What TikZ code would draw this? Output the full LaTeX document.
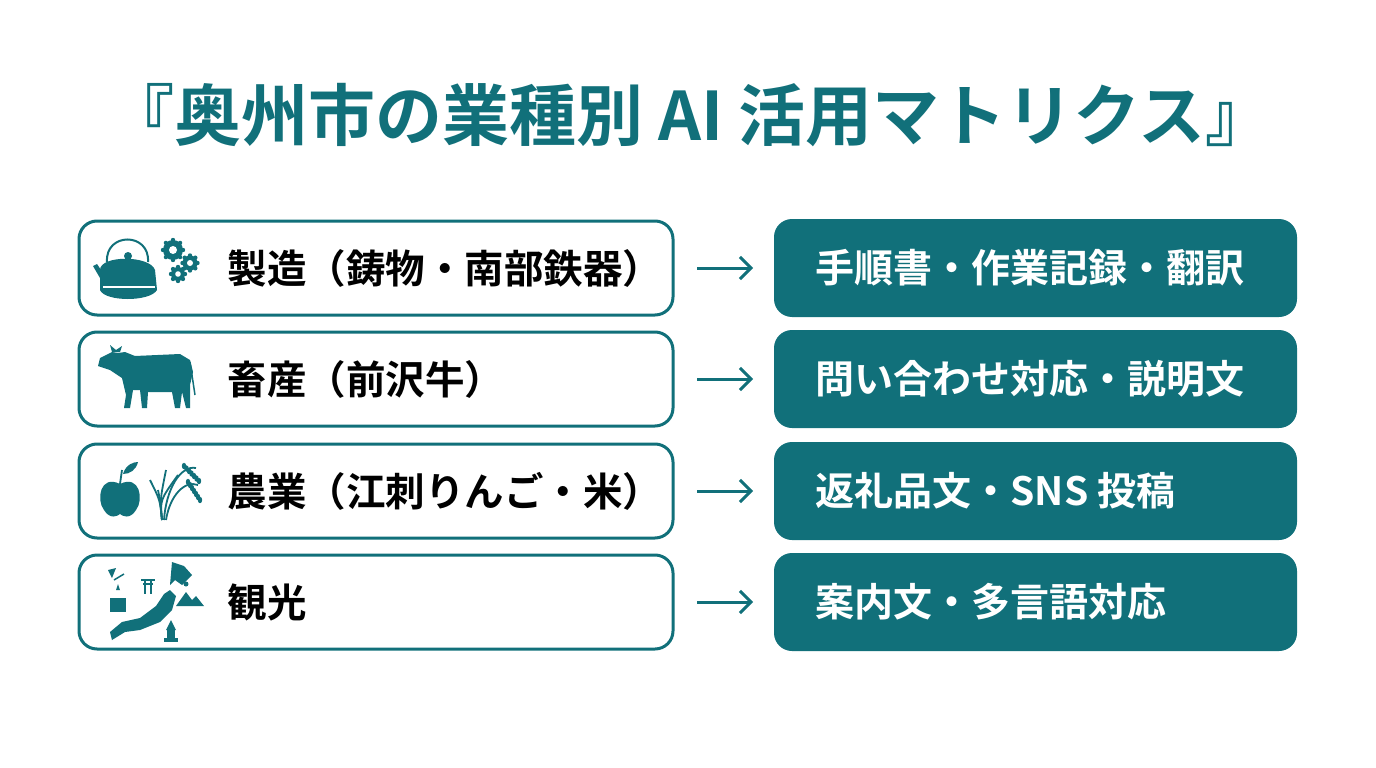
\documentclass[tikz,border=0pt]{standalone}
\usetikzlibrary{arrows.meta}
\usepackage{fontspec}
\newfontfamily\cjk{Noto Sans CJK JP}[BoldFont=* Bold]
\definecolor{teal1}{HTML}{11707A}
\begin{document}
\begin{tikzpicture}[x=1pt,y=-1pt,
  lbox/.style={draw=teal1,line width=3pt,rounded corners=18pt,fill=white},
  rbox/.style={fill=teal1,rounded corners=18pt},
  ltxt/.style={anchor=west,font=\cjk\bfseries\fontsize{39.5}{44}\selectfont,text=black},
  rtxt/.style={anchor=west,font=\cjk\bfseries\fontsize{39}{44}\selectfont,text=white},
  arr/.style={draw=teal1,line width=3pt,-{Straight Barb[length=11pt,width=22pt]}},
  ic/.style={fill=teal1}]
\useasboundingbox (0,0) rectangle (1376,768);
\node[font=\cjk\bfseries\fontsize{67}{72}\selectfont,text=teal1] (title) at (690,115) {『奥州市の業種別 AI 活用マトリクス』};
\foreach \i/\y/\lt/\rt in {1/268/製造（鋳物・南部鉄器）/手順書・作業記録・翻訳,
  2/379/畜産（前沢牛）/問い合わせ対応・説明文,
  3/491/農業（江刺りんご・米）/返礼品文・SNS 投稿,
  4/602/観光/案内文・多言語対応}{
  \draw[lbox] (79,\y-47) rectangle (673,\y+47);
  \fill[rbox] (774,\y-49) rectangle (1297,\y+49);
  \node[ltxt] (l\i) at (224,\y) {\lt};
  \node[rtxt] (r\i) at (812,\y) {\rt};
  \coordinate (a\i) at (697,\y);
  \coordinate (b\i) at (753,\y);
  \draw[arr] (a\i) -- (b\i);
}
% teapot
\fill[ic] (100,270) .. controls (100,255) and (150,255) .. (155,270) -- (157,290) .. controls (150,302) and (105,302) .. (100,290) -- cycle;
\fill[ic] (100,278) -- (93,266) -- (97,264) -- (108,280) -- cycle;
\draw[teal1,line width=2pt] (107,262) .. controls (105,232) and (150,232) .. (148,262);
\fill[ic] (128,256) circle (4);
\draw[white,line width=1.5pt] (103,287) -- (155,287);
\foreach \cx/\cy/\r in {173/250/10,190/263/7.5,178/274/7}{
  \foreach \a in {0,45,...,315} \fill[ic] (\cx,\cy) ++(\a:\r) circle (2.2);
  \fill[ic] (\cx,\cy) circle (\r); \fill[white] (\cx,\cy) circle (\r*0.4);}
% cow
\fill[ic] (118,353) -- (112,352) -- (100,358) -- (98,366) -- (110,370) -- (122,378) -- (126,395) -- (124,408) -- (130,408) -- (133,390) -- (140,390) -- (142,408) -- (147,408) -- (148,392) -- (172,392) -- (175,408) -- (180,408) -- (182,392) -- (186,408) -- (190,408) -- (190,385) -- (193,372) -- (190,360) -- (180,354) -- (135,356) -- (125,352) -- cycle;
\fill[ic] (112,352) -- (110,345) -- (116,350) -- (122,346) -- (120,352) -- cycle;
\draw[teal1,line width=1.5pt] (190,362) -- (195,395);
% apple
\fill[ic] (120,484) .. controls (100,474) and (96,500) .. (104,510) .. controls (110,520) and (118,516) .. (120,514) .. controls (122,516) and (130,520) .. (136,510) .. controls (144,500) and (140,474) .. (120,484) -- cycle;
\draw[teal1,line width=1.8pt] (120,484) -- (122,470);
\fill[ic] (123,474) .. controls (126,464) and (134,462) .. (138,462) .. controls (136,470) and (130,474) .. (123,474) -- cycle;
% rice
\foreach \ex/\ey in {150/480,166/470,178/475,158/490}{
  \draw[teal1,line width=1.8pt] (162,520) .. controls (160,500) .. (\ex,\ey);}
\draw[teal1,line width=1.8pt] (164,520) .. controls (166,490) and (180,465) .. (196,468);
\draw[teal1,line width=1.8pt] (166,520) .. controls (170,495) and (185,480) .. (198,485);
\foreach \t in {0,1,...,6}{
  \fill[ic] (184+\t*2.5,466+\t*2.5) ellipse (2.2 and 3.2);
  \fill[ic] (188+\t*2,482+\t*3) ellipse (2.2 and 3.2);}
% Japan map
\fill[ic] (172,562) -- (184,566) -- (192,575) -- (182,585) -- (175,580) -- (170,585) -- cycle;
\fill[ic] (170,590) -- (176,596) -- (172,610) -- (160,622) -- (140,630) -- (125,632) -- (112,640) -- (110,632) -- (122,622) -- (140,618) -- (156,606) -- (164,594) -- cycle;
\fill[ic] (108,570) -- (116,568) -- (112,578) -- cycle;
\draw[teal1,line width=1.5pt] (114,580) -- (124,574);
\fill[ic] (110,598) rectangle (126,612); \fill[ic] (116,590) -- (118,584) -- (120,590) -- cycle;
\draw[teal1,line width=1.6pt] (141,580) -- (155,580) (143,584) -- (153,584) (145,580) -- (145,594) (151,580) -- (151,594);
\fill[ic] (176,606) -- (186,592) -- (192,600) -- (196,596) -- (204,606) -- cycle;
\fill[ic] (186,584) circle (2.5);
\fill[ic] (164,638) rectangle (178,642); \fill[ic] (166,630) -- (171,620) -- (176,630) -- cycle; \fill[ic] (167,630) rectangle (175,638);
\end{tikzpicture}
\end{document}
